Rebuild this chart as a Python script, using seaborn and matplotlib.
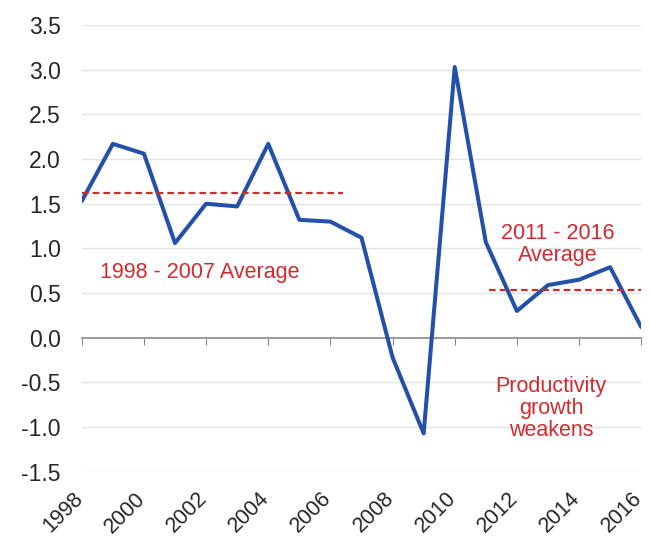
import matplotlib
matplotlib.use('Agg')
import matplotlib.pyplot as plt
import matplotlib.transforms as mtransforms
import seaborn as sns
import pandas as pd

# productivity growth by year (%)
years = list(range(1998, 2017))
growth = [1.53, 2.17, 2.06, 1.06, 1.50, 1.47, 2.17, 1.32, 1.30, 1.12,
          -0.22, -1.07, 3.03, 1.07, 0.30, 0.59, 0.65, 0.79, 0.12]

# period averages: (start, end, value)
avg_early = (1998, 2006.4, 1.62)
avg_late = (2011.1, 2016, 0.54)

df = pd.DataFrame({'Year': years, 'Growth': growth})

sns.set_style('white')
plt.rcParams['font.family'] = ['Liberation Sans', 'DejaVu Sans']

fig, ax = plt.subplots(figsize=[6.49, 5.43], dpi=100)
fig.subplots_adjust(left=0.126, right=0.988, top=0.954, bottom=0.131)

# gridlines
for y in [-1.5, -1.0, -0.5, 0.5, 1.0, 1.5, 2.0, 2.5, 3.0, 3.5]:
    ax.axhline(y, color='#e3e3e3', linewidth=1, zorder=0)

# main line
sns.lineplot(data=df, x='Year', y='Growth', color='#2350a8', linewidth=2.9, ax=ax, zorder=3)

# average lines
red = '#d42a2f'
ax.plot([avg_early[0], avg_early[1]], [avg_early[2]] * 2, color=red, linestyle=(0, (3, 1.8)), linewidth=1.6, zorder=4)
ax.plot([avg_late[0], avg_late[1]], [avg_late[2]] * 2, color=red, linestyle=(0, (3, 1.8)), linewidth=1.6, zorder=4)

# annotations
ax.text(2001.8, 0.73, '1998 - 2007 Average', color=red, fontsize=15.5, ha='center', va='center')
ax.text(2013.3, 1.045, '2011 - 2016\nAverage', color=red, fontsize=15.5, ha='center', va='center', linespacing=1.1)
ax.text(2013.1, -0.79, 'Productivity\ngrowth\nweakens', color=red, fontsize=15.5, ha='center', va='center', linespacing=1.05)

ax.set_xlim(1998, 2016)
ax.set_ylim(-1.5, 3.5)
ax.set_yticks([-1.5, -1.0, -0.5, 0.0, 0.5, 1.0, 1.5, 2.0, 2.5, 3.0, 3.5])
ax.yaxis.set_major_formatter(plt.FuncFormatter(lambda v, pos: f"{v:.1f}"))
ax.set_xticks(list(range(1998, 2017, 2)))
ax.tick_params(axis='x', length=0, labelsize=15.5, rotation=45, pad=17)
ax.tick_params(axis='y', length=0, labelsize=16.5, pad=15)
shift = mtransforms.ScaledTranslation(-2 / 100, 0, fig.dpi_scale_trans)
for lbl in ax.get_xticklabels():
    lbl.set_ha('right')
    lbl.set_va('center')
    lbl.set_rotation_mode('anchor')
    lbl.set_transform(lbl.get_transform() + shift)
ax.set_xlabel('')
ax.set_ylabel('')

for s in ax.spines.values():
    s.set_visible(False)

# zero axis with tick marks
zero_ax = ax.secondary_xaxis(1.5 / 5.0)
zero_ax.set_xticks(list(range(1998, 2017, 2)))
zero_ax.tick_params(axis='x', direction='out', length=5, color='#8a8a8a', labelbottom=False, labeltop=False)
zero_ax.spines['bottom'].set_color('#8a8a8a')
zero_ax.spines['bottom'].set_linewidth(1.2)

plt.savefig('out.png', dpi=100)
